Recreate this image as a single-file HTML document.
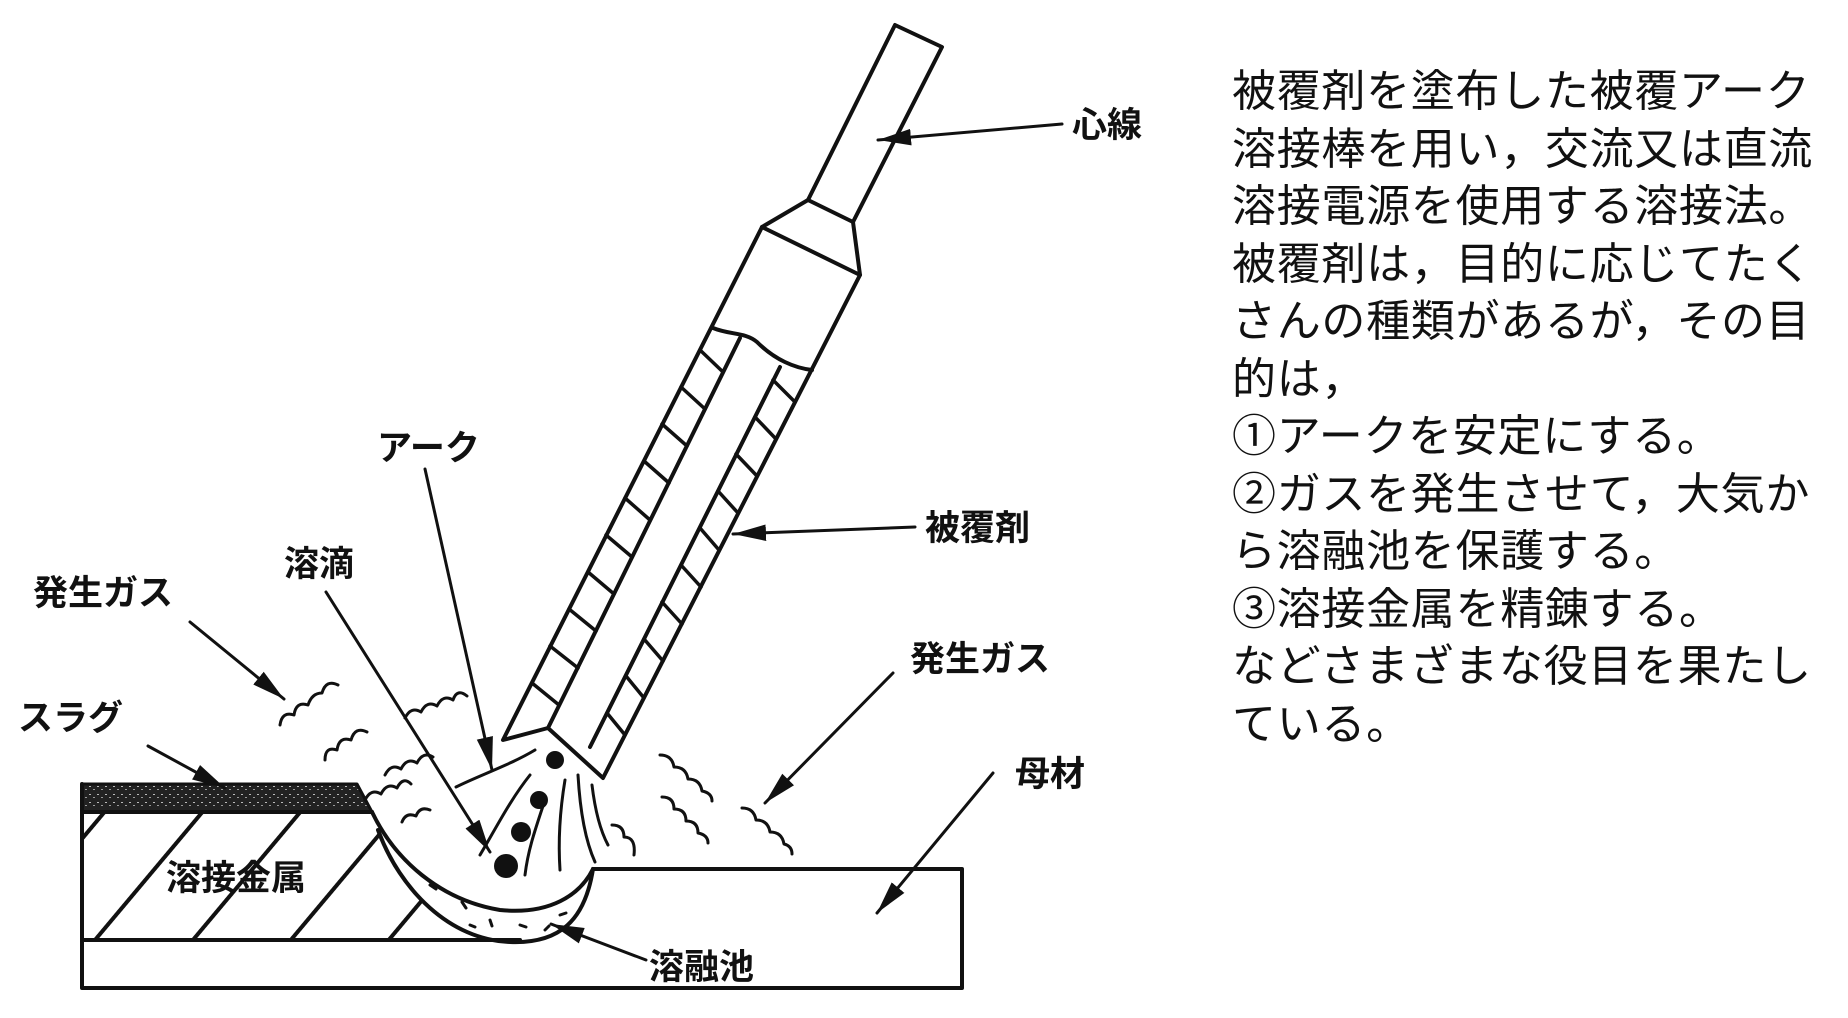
<!DOCTYPE html>
<html><head><meta charset="utf-8"><style>
html,body{margin:0;padding:0;background:#fff;}
svg{display:block;}
.t{font-family:"Liberation Sans","Noto Sans CJK JP",sans-serif;font-size:44px;letter-spacing:0.7px;fill:#111;}
.l{font-family:"Liberation Sans","Noto Sans CJK JP",sans-serif;font-size:35px;fill:#111;font-weight:bold;}
</style></head><body>
<svg width="1848" height="1018" viewBox="0 0 1848 1018" xmlns="http://www.w3.org/2000/svg">
<defs>
<marker id="a" viewBox="0 0 20 10" refX="20" refY="5" markerWidth="11" markerHeight="6" markerUnits="strokeWidth" orient="auto"><path d="M0,0 L20,5 L0,10 Z" fill="#111"/></marker>
<pattern id="hat" width="75" height="75" patternUnits="userSpaceOnUse" patternTransform="rotate(40)"><rect width="75" height="75" fill="#fff"/><line x1="0" y1="0" x2="0" y2="75" stroke="#111" stroke-width="8"/></pattern>
<pattern id="slag" width="8" height="8" patternUnits="userSpaceOnUse"><rect width="8" height="8" fill="#222"/><rect x="1" y="2" width="2" height="1" fill="#bbb"/><rect x="5" y="5" width="2" height="1" fill="#999"/></pattern>
<clipPath id="wm"><path d="M82,812 L372,812 L378,830 C400,890 450,940 510,942 L82,942 Z"/></clipPath>
</defs>
<g fill="none" stroke="#111" stroke-width="4" stroke-linejoin="round" stroke-linecap="round">
<rect x="82" y="812" width="520" height="130" fill="url(#hat)" clip-path="url(#wm)" stroke="none"/>
<path d="M82,784 L357,784 L372,812 L82,812 Z" fill="url(#slag)" stroke-width="3"/>
<path d="M82,784 L82,988 L962,988 L962,869 L593,869"/>
<path d="M82,812 L372,812"/>
<path d="M82,940 L520,940"/>
<path d="M372,812 C395,860 440,900 500,910 C550,915 580,895 593,869"/>
<path d="M378,830 C400,890 450,940 510,942 C560,944 585,920 593,869"/>
<g stroke-width="3">
<path d="M430,885 l6,4 M462,902 l4,6 M520,925 l6,2 M545,930 l4,-4 M490,920 l2,6 M560,915 l6,-2 M470,925 l5,2"/>
</g>
<path d="M808,200 L895,25 L942,47 L853,222"/>
<path d="M808,200 L762,227 L860,275 L853,222 M808,200 L853,222"/>
<path d="M762,227 L503,740 L548,728 L603,778 L860,275"/>
<path d="M713,328 C730,335 745,332 757,342 C775,360 795,368 812,370"/>
<path d="M740,338 L548,728 M780,367 L590,747"/>
<g stroke-width="3.5">
<path d="M700,350 L723,372 M681,387 L705,409 M662,424 L687,446 M644,461 L669,483 M625,498 L650,520 M606,535 L632,557 M588,572 L614,594 M569,609 L596,631 M550,646 L578,668 M532,683 L559,705"/>
<path d="M773,380 L795,402 M755,417 L776,439 M736,454 L757,476 M718,491 L738,513 M700,528 L719,550 M681,565 L701,587 M662,602 L682,624 M644,639 L663,661 M626,676 L644,698 M607,713 L625,735"/>
</g>
<g fill="#111" stroke="none">
<circle cx="555" cy="760" r="9"/><circle cx="539" cy="800" r="9"/><circle cx="521" cy="832" r="10"/><circle cx="506" cy="866" r="12"/>
</g>
<g stroke-width="3">
<path d="M456,787 C480,775 510,765 535,750"/>
<path d="M530,775 C510,800 495,830 480,855"/>
<path d="M545,800 C535,830 528,850 525,875"/>
<path d="M565,780 C560,810 558,840 560,870"/>
<path d="M578,775 C580,810 585,840 595,862"/>
<path d="M592,785 C595,810 600,830 608,845"/>
</g>
<g stroke-width="3">
<path d="M280,725 q2,-14 14,-10 q2,-14 14,-10 q4,-12 14,-12 q4,-14 16,-8"/>
<path d="M325,760 q0,-14 12,-10 q2,-14 14,-10 q4,-14 16,-8"/>
<path d="M405,718 q6,-12 16,-6 q6,-12 16,-6 q6,-12 16,-6 q4,-12 14,-4"/>
<path d="M385,775 q6,-12 16,-6 q6,-12 16,-6 q6,-12 16,-6"/>
<path d="M365,800 q6,-12 16,-6 q6,-12 16,-6 q6,-12 14,-4"/>
<path d="M402,822 q4,-10 14,-6 q4,-10 14,-6"/>
<path d="M660,755 q12,0 14,12 q12,0 14,12 q12,0 14,12 q10,2 10,10"/>
<path d="M662,797 q12,0 12,12 q12,0 12,12 q12,0 12,12 q10,2 10,10"/>
<path d="M612,825 q12,0 12,12 q12,0 10,18"/>
<path d="M742,808 q12,0 14,12 q12,0 14,12 q12,0 14,12 q8,2 8,10"/>
</g>
<g stroke-width="3" marker-end="url(#a)">
<path d="M1062,124 L878,140"/>
<path d="M915,527 L733,534"/>
<path d="M425,469 L492,770"/>
<path d="M326,592 L490,852"/>
<path d="M190,622 L284,699"/>
<path d="M148,746 L225,788"/>
<path d="M893,673 L765,803"/>
<path d="M993,773 L877,913"/>
<path d="M646,960 L551,924"/>
</g>
</g>
<text class="l" x="1072" y="137">心線</text>
<text class="l" x="925" y="540">被覆剤</text>
<text class="l" x="377" y="460">アーク</text>
<text class="l" x="284" y="576">溶滴</text>
<text class="l" x="33" y="605">発生ガス</text>
<text class="l" x="18" y="730">スラグ</text>
<text class="l" x="910" y="671">発生ガス</text>
<text class="l" x="1015" y="786">母材</text>
<text class="l" x="649" y="979">溶融池</text>
<text class="l" x="166" y="890">溶接金属</text>
<g class="t">
<text x="1232" y="106">被覆剤を塗布した被覆アーク</text>
<text x="1232" y="164">溶接棒を用い，交流又は直流</text>
<text x="1232" y="221">溶接電源を使用する溶接法。</text>
<text x="1232" y="279">被覆剤は，目的に応じてたく</text>
<text x="1232" y="336">さんの種類があるが，その目</text>
<text x="1232" y="394">的は，</text>
<text x="1232" y="451">①アークを安定にする。</text>
<text x="1232" y="509">②ガスを発生させて，大気か</text>
<text x="1232" y="566">ら溶融池を保護する。</text>
<text x="1232" y="624">③溶接金属を精錬する。</text>
<text x="1232" y="681">などさまざまな役目を果たし</text>
<text x="1232" y="739">ている。</text>
</g>
</svg>
</body></html>
